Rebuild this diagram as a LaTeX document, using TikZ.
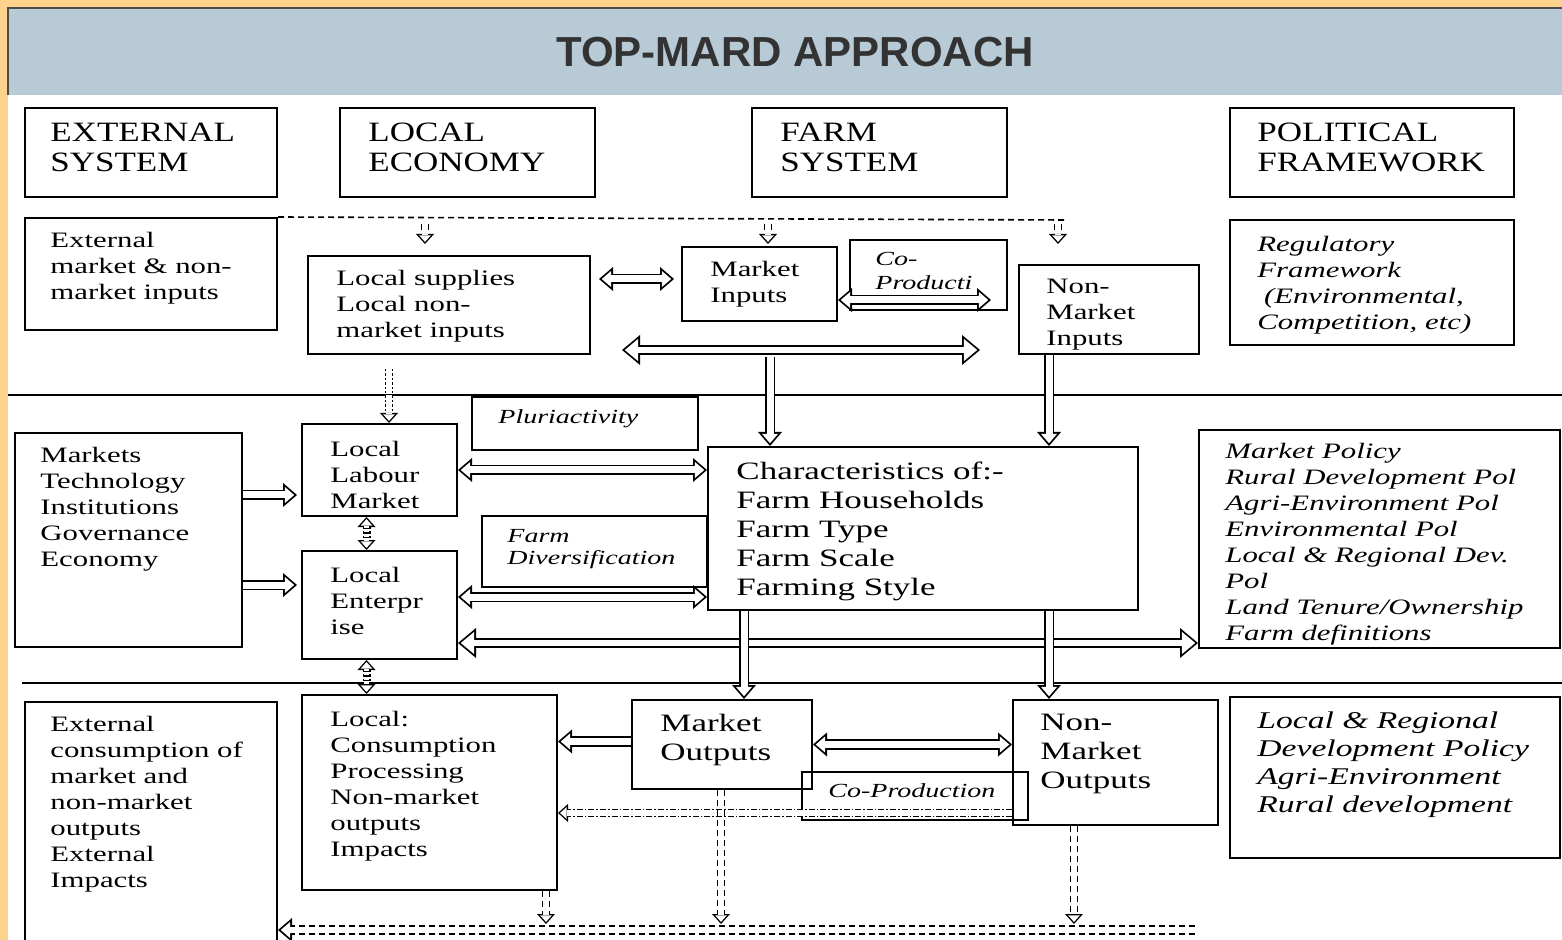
\documentclass[tikz,border=0pt]{standalone}
\usepackage{fontspec}
\newfontfamily\bodyf[FakeStretch=1.4]{Liberation Serif}
\newfontfamily\headf[FakeStretch=1.25]{Liberation Serif}
\newfontfamily\titlef{Liberation Sans}
\usetikzlibrary{arrows.meta,fit,calc}
\definecolor{frameorange}{HTML}{FDD28C}
\definecolor{bandblue}{HTML}{B7CAD5}
\definecolor{titlegray}{HTML}{333333}
\tikzset{
  bx/.style={draw, line width=1pt, inner sep=0pt},
  txt/.style={anchor=north west, align=left, inner sep=0pt, font=\bodyf\fontsize{11}{13}\selectfont},
  bigtxt/.style={txt, font=\bodyf\fontsize{12.5}{14.5}\selectfont},
  hdtxt/.style={txt, font=\headf\fontsize{14}{15}\selectfont},
  ittxt/.style={txt, font=\bodyf\itshape\fontsize{11}{13}\selectfont},
  smit/.style={txt, font=\bodyf\itshape\fontsize{10}{11}\selectfont},
  bigit/.style={txt, font=\bodyf\itshape\fontsize{12}{14}\selectfont},
  tA/.tip={Triangle[length=7pt,width=12pt,line width=0pt]},
  tAw/.tip={Triangle[length=4.72pt,width=8.1pt,line width=0pt]},
  tB/.tip={Triangle[length=9pt,width=15pt,line width=0pt]},
  tBw/.tip={Triangle[length=6.69pt,width=11.16pt,line width=0pt]},
  tC/.tip={Triangle[length=5pt,width=9pt,line width=0pt]},
  tCw/.tip={Triangle[length=3.25pt,width=5.86pt,line width=0pt]},
  holr/.style={line width=5.3pt, -tA,
    postaction={draw=white, line width=3.5pt, shorten >=1.38pt, -tAw}},
  holb/.style={line width=5.3pt, tA-tA,
    postaction={draw=white, line width=3.5pt, shorten >=1.38pt, shorten <=1.38pt, tAw-tAw}},
  bigholb/.style={line width=5pt, tB-tB,
    postaction={draw=white, line width=3.2pt, shorten >=1.41pt, shorten <=1.41pt, tBw-tBw}},
  holline/.style={line width=5pt, -tA,
    postaction={draw=white, line width=3.2pt, shorten >=1.38pt, -tAw}},
  thr/.style={line width=4pt, -tC,
    postaction={draw=white, line width=2.6pt, shorten >=1.05pt, -tCw}},
  thb/.style={line width=4pt, tC-tC,
    postaction={draw=white, line width=2.6pt, shorten >=1.05pt, shorten <=1.05pt, tCw-tCw}},
  dsh/.style={dash pattern=on 3pt off 2pt},
  dtt/.style={dash pattern=on 1.2pt off 1pt},
  dshdot/.style={dash pattern=on 3pt off 1pt on 0.8pt off 1pt},
  sep/.style={line width=1pt},
}
\begin{document}
\begin{tikzpicture}[x=0.5pt,y=-0.5pt]
\useasboundingbox (0,0) rectangle (1562,940);
\fill[frameorange] (0,0) rectangle (1562,940);
\fill[white] (8,95) rectangle (1562,940);
\fill[bandblue] (8,8) rectangle (1562,95);
\draw[line width=0.6pt, black!70] (1562,8) -- (8,8) -- (8,95);
\node[font=\titlef\bfseries\fontsize{21}{25}\selectfont, text=titlegray] (title) at (795,52) {TOP-MARD APPROACH};

% separators
\draw[sep] (8,395) -- (1562,395);
\draw[sep] (22,683) -- (1562,683);

% header boxes
\node[bx, fit={(25,108)(277,197)}] (hes) {};
\node[bx, fit={(340,108)(595,197)}] (hle) {};
\node[bx, fit={(752,108)(1007,197)}] (hfs) {};
\node[bx, fit={(1230,108)(1514,197)}] (hpf) {};
\node[hdtxt] (hes-t) at (50,123) {EXTERNAL\\SYSTEM};
\node[hdtxt] (hle-t) at (368,123) {LOCAL\\ECONOMY};
\node[hdtxt] (hfs-t) at (780,123) {FARM\\SYSTEM};
\node[hdtxt] (hpf-t) at (1257,123) {POLITICAL\\FRAMEWORK};

% row 1
\node[bx, fit={(25,218)(277,330)}] (extin) {};
\node[txt] (extin-t) at (50,232) {External\\market \& non-\\market inputs};
\node[bx, fit={(308,256)(590,354)}] (locsup) {};
\node[txt] (locsup-t) at (336,270) {Local supplies\\Local non-\\market inputs};
\node[bx, fit={(682,247)(837,321)}] (mktin) {};
\node[txt] (mktin-t) at (710,261) {Market\\Inputs};
\node[bx, fit={(850,240)(1007,310)}] (cop1) {};
\node[smit] (cop1-t) at (875,252) {Co-\\[1pt]Producti};
\node[bx, fit={(1019,265)(1199,354)}] (nmin) {};
\node[txt] (nmin-t) at (1046,279) {Non-\\Market\\Inputs};
\node[bx, fit={(1230,220)(1514,345)}] (reg) {};
\node[ittxt] (reg-t) at (1257,236) {Regulatory\\Framework\\\hspace{0.3em}(Environmental,\\Competition, etc)};

% row 2
\node[bx, fit={(472,397)(698,450)}] (pluri) {};
\node[smit] (pluri-t) at (498,409) {Pluriactivity};
\node[bx, fit={(15,433)(242,647)}] (mtig) {};
\node[txt] (mtig-t) at (40,447) {Markets\\Technology\\Institutions\\Governance\\Economy};
\node[bx, fit={(302,424)(457,516)}] (llm) {};
\node[txt] (llm-t) at (330,441) {Local\\Labour\\Market};
\node[bx, fit={(482,516)(707,587)}] (fdiv) {};
\node[smit] (fdiv-t) at (507,529) {Farm\\Diversification};
\node[bx, fit={(302,551)(457,659)}] (lent) {};
\node[txt] (lent-t) at (330,567) {Local\\Enterpr\\ise};
\node[bx, fit={(708,447)(1138,610)}] (chr) {};
\node[bigtxt] (chr-t) at (736,461) {Characteristics of:-\\Farm Households\\Farm Type\\Farm Scale\\Farming Style};
\node[bx, fit={(1199,430)(1560,648)}] (pol) {};
\node[ittxt] (pol-t) at (1225,443) {Market Policy\\Rural Development Pol\\Agri-Environment Pol\\Environmental Pol\\Local \& Regional Dev.\\Pol\\Land Tenure/Ownership\\Farm definitions};

% row 3
\node[bx, fit={(25,702)(277,945)}] (extc) {};
\node[txt] (extc-t) at (50,716) {External\\consumption of\\market and\\non-market\\outputs\\External\\Impacts};
\node[bx, fit={(302,695)(557,890)}] (loc) {};
\node[txt] (loc-t) at (330,711) {Local:\\Consumption\\Processing\\Non-market\\outputs\\Impacts};
\node[bx, fit={(632,700)(812,789)}] (mkto) {};
\node[bigtxt] (mkto-t) at (660,714) {Market\\Outputs};
\node[bx, fit={(1013,700)(1218,825)}] (nmo) {};
\node[bigtxt] (nmo-t) at (1040,714) {Non-\\Market\\Outputs};
\node[bx, line width=0.8pt, fit={(802,772)(1028,820)}] (cop2) {};
\node[smit] (cop2-t) at (828,783) {Co-Production};
\node[bx, fit={(1230,697)(1560,858)}] (lrdp) {};
\node[bigit] (lrdp-t) at (1257,711) {Local \& Regional\\Development Policy\\Agri-Environment\\Rural development};

% ---- connectors ----
\coordinate (dtop) at (1065,220);
\draw[line width=0.8pt, dsh] (extin.north east) -- (dtop);
\coordinate (s1) at (425,224);
\coordinate (s2) at (768,224);
\coordinate (s3) at (1058,224);
\draw[thr, dsh] (s1) -- ($(s1)+(0,20)$);
\draw[thr, dsh] (s2) -- ($(s2)+(0,20)$);
\draw[thr, dsh] (s3) -- ($(s3)+(0,20)$);

\draw[holb] ($(locsup.east |- mktin.west)+(8,-5)$) coordinate (a1) -- ($(a1 -| mktin.west)+(-7,0)$);
\draw[holb] ($(mktin.east)+(0,16)$) coordinate (a2) -- ($(a2 -| cop1.east)+(-17,0)$);
\coordinate (la1) at (622,350);
\coordinate (la2) at (980,350);
\draw[bigholb] (la1) -- (la2);
\coordinate (la3) at (770,357);
\draw[holr] (la3) -- (la3 |- chr.north);
\draw[holr] ($(nmin.south west)+(31,0)$) coordinate (a3) -- (a3 |- chr.north);

\draw[thr, dtt] ($(llm.north west)+(88,-54)$) coordinate (a4) -- (a4 |- llm.north);
\draw[holr] ($(mtig.east)+(0,-45)$) coordinate (a5) -- ($(a5 -| llm.west)+(-4,0)$);
\draw[holr] ($(mtig.east)+(0,45)$) coordinate (a6) -- ($(a6 -| lent.west)+(-4,0)$);
\draw[holb] (llm.east) -- (llm.east -| chr.west);
\draw[holb] ($(lent.east)+(0,-8)$) coordinate (a7) -- (a7 -| chr.west);
\draw[thb, dtt] ($(llm.south)+(-13,0)$) coordinate (a8) -- (a8 |- lent.north);
\draw[bigholb] ($(lent.east)+(0,38)$) coordinate (a9) -- (a9 -| pol.west);
\draw[holr] ($(chr.south west)+(37,0)$) coordinate (a10) -- (a10 |- mkto.north);
\draw[holr] ($(chr.south west)+(342,0)$) coordinate (a11) -- (a11 |- nmo.north);
\draw[thb, dtt] ($(lent.south)+(-13,0)$) coordinate (a12) -- (a12 |- loc.north);

\draw[holr] ($(mkto.west)+(0,-3)$) coordinate (a13) -- (a13 -| loc.east);
\draw[holb] (mkto.east) -- (mkto.east -| nmo.west);
\draw[thr, dshdot] ($(nmo.south west)+(0,-13)$) coordinate (a14) -- (a14 -| loc.east);

\coordinate (bl) at (1195,930);
\draw[holline, dsh] (bl) -- (bl -| extc.east);
\draw[thr, dsh] ($(mkto.south west)+(90,0)$) coordinate (a15) -- ($(a15 |- bl)+(0,-6)$);
\draw[thr, dsh] ($(nmo.south west)+(62,0)$) coordinate (a16) -- ($(a16 |- bl)+(0,-6)$);
\draw[thr, dsh] ($(loc.south east)+(-12,0)$) coordinate (a17) -- ($(a17 |- bl)+(0,-6)$);
\end{tikzpicture}
\end{document}
